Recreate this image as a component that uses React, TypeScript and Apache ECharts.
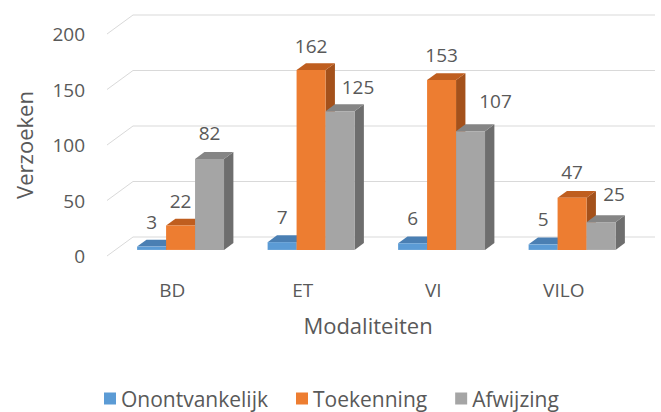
import React, { useEffect, useRef } from "react";
import * as echarts from "echarts";

const categories = ["BD", "ET", "VI", "VILO"];
const seriesNames = ["Onontvankelijk", "Toekenning", "Afwijzing"];
const onontvankelijk = [3, 7, 6, 5];
const toekenning = [22, 162, 153, 47];
const afwijzing = [82, 125, 107, 25];
const yTicks = [0, 50, 100, 150, 200];

// label nudges (style only): [dx, dy] per series per category
const labelNudges = [
  [[0, -25], [0, -25], [0, -25], [0, -25]],
  [[0, -25], [0, -24], [0, -25], [0, -26]],
  [[0, -26], [18, -24], [25, -30], [13, -28]],
];

const frontColors = ["#5B9BD5", "#ED7D31", "#A5A5A5"];
const topColors = ["#4A7FB3", "#BF5E1F", "#858585"];
const sideColors = ["#3F6E9C", "#A4511B", "#6E6E6E"];

const FONT = "'Open Sans', sans-serif";
const TEXT = "#595959";
const DEPTH_X = 26;
const DEPTH_Y = -19;
const FRONT_F = 0.32;
const BAR_F = 0.36;

function makeBarRenderer(k: number) {
  return (params: any, api: any) => {
    const cat = api.value(0);
    const v = api.value(1);
    const base = api.coord([cat, 0]);
    const top = api.coord([cat, v]);
    const band = api.size([1, 0])[0];
    const w = band * 0.222;
    const fx = DEPTH_X * FRONT_F;
    const fy = DEPTH_Y * FRONT_F;
    const dx = DEPTH_X * BAR_F;
    const dy = DEPTH_Y * BAR_F;
    const x0 = base[0] + (k - 1.5) * w + fx;
    const yb = base[1] + fy;
    const yt = top[1] + fy;
    const nudge = labelNudges[k][params.dataIndex];
    return {
      type: "group",
      children: [
        {
          type: "polygon",
          shape: {
            points: [
              [x0 + w, yt],
              [x0 + w + dx, yt + dy],
              [x0 + w + dx, yb + dy],
              [x0 + w, yb],
            ],
          },
          style: { fill: sideColors[k] },
        },
        {
          type: "polygon",
          shape: {
            points: [
              [x0, yt],
              [x0 + w, yt],
              [x0 + w + dx, yt + dy],
              [x0 + dx, yt + dy],
            ],
          },
          style: { fill: topColors[k] },
        },
        {
          type: "rect",
          shape: { x: x0, y: yt, width: w, height: yb - yt },
          style: { fill: frontColors[k] },
        },
        {
          type: "text",
          x: x0 + w / 2 + nudge[0],
          y: yt + nudge[1],
          style: {
            text: String(v),
            fill: TEXT,
            font: `19px ${FONT}`,
            align: "center",
            verticalAlign: "middle",
          },
        },
      ],
    };
  };
}

function gridRenderer(params: any, api: any) {
  const v = api.value(1);
  const p = api.coord([0, v]);
  const cs = params.coordSys;
  const y = p[1];
  return {
    type: "polyline",
    shape: {
      points: [
        [cs.x, y],
        [cs.x + DEPTH_X, y + DEPTH_Y],
        [cs.x + cs.width + DEPTH_X, y + DEPTH_Y],
      ],
    },
    style: { stroke: "#D9D9D9", lineWidth: 1, fill: null },
  };
}

export default function App() {
  const ref = useRef<HTMLDivElement>(null);
  useEffect(() => {
    if (!ref.current) return;
    const chart = echarts.init(ref.current, null, { renderer: "svg" });
    const seriesData = [onontvankelijk, toekenning, afwijzing];
    chart.setOption({
      animation: false,
      textStyle: { fontFamily: FONT },
      grid: { left: 107, right: 32, top: 34, bottom: 156 },
      legend: {
        data: seriesNames,
        top: 383,
        left: 99,
        itemWidth: 12,
        itemHeight: 12,
        itemGap: 28,
        icon: "rect",
        textStyle: { fontFamily: FONT, fontSize: 21, color: TEXT },
      },
      xAxis: {
        type: "category",
        data: categories,
        axisLine: { show: false },
        axisTick: { show: false },
        axisLabel: { fontFamily: FONT, fontSize: 19, color: TEXT, margin: 24 },
        name: "Modaliteiten",
        nameLocation: "middle",
        nameGap: 58,
        nameTextStyle: { fontFamily: FONT, fontSize: 22, color: TEXT },
      },
      yAxis: {
        type: "value",
        min: 0,
        max: 200,
        interval: 50,
        axisLine: { show: false },
        axisTick: { show: false },
        splitLine: { show: false },
        axisLabel: { fontFamily: FONT, fontSize: 19, color: TEXT, margin: 22 },
        name: "Verzoeken",
        nameLocation: "middle",
        nameGap: 72,
        nameTextStyle: { fontFamily: FONT, fontSize: 22, color: TEXT },
      },
      series: [
        {
          type: "custom",
          name: "grid",
          silent: true,
          z: 1,
          data: yTicks.map((t) => [0, t]),
          renderItem: gridRenderer,
        },
        ...seriesNames.map((name, k) => ({
          type: "custom",
          name,
          z: 2 + k,
          itemStyle: { color: frontColors[k] },
          data: seriesData[k].map((v, i) => [i, v]),
          renderItem: makeBarRenderer(k),
        })),
      ],
    });
    return () => chart.dispose();
  }, []);
  return (
    <div
      ref={ref}
      style={{ position: "fixed", left: 0, top: 0, width: 661, height: 412, background: "#fff" }}
    />
  );
}
